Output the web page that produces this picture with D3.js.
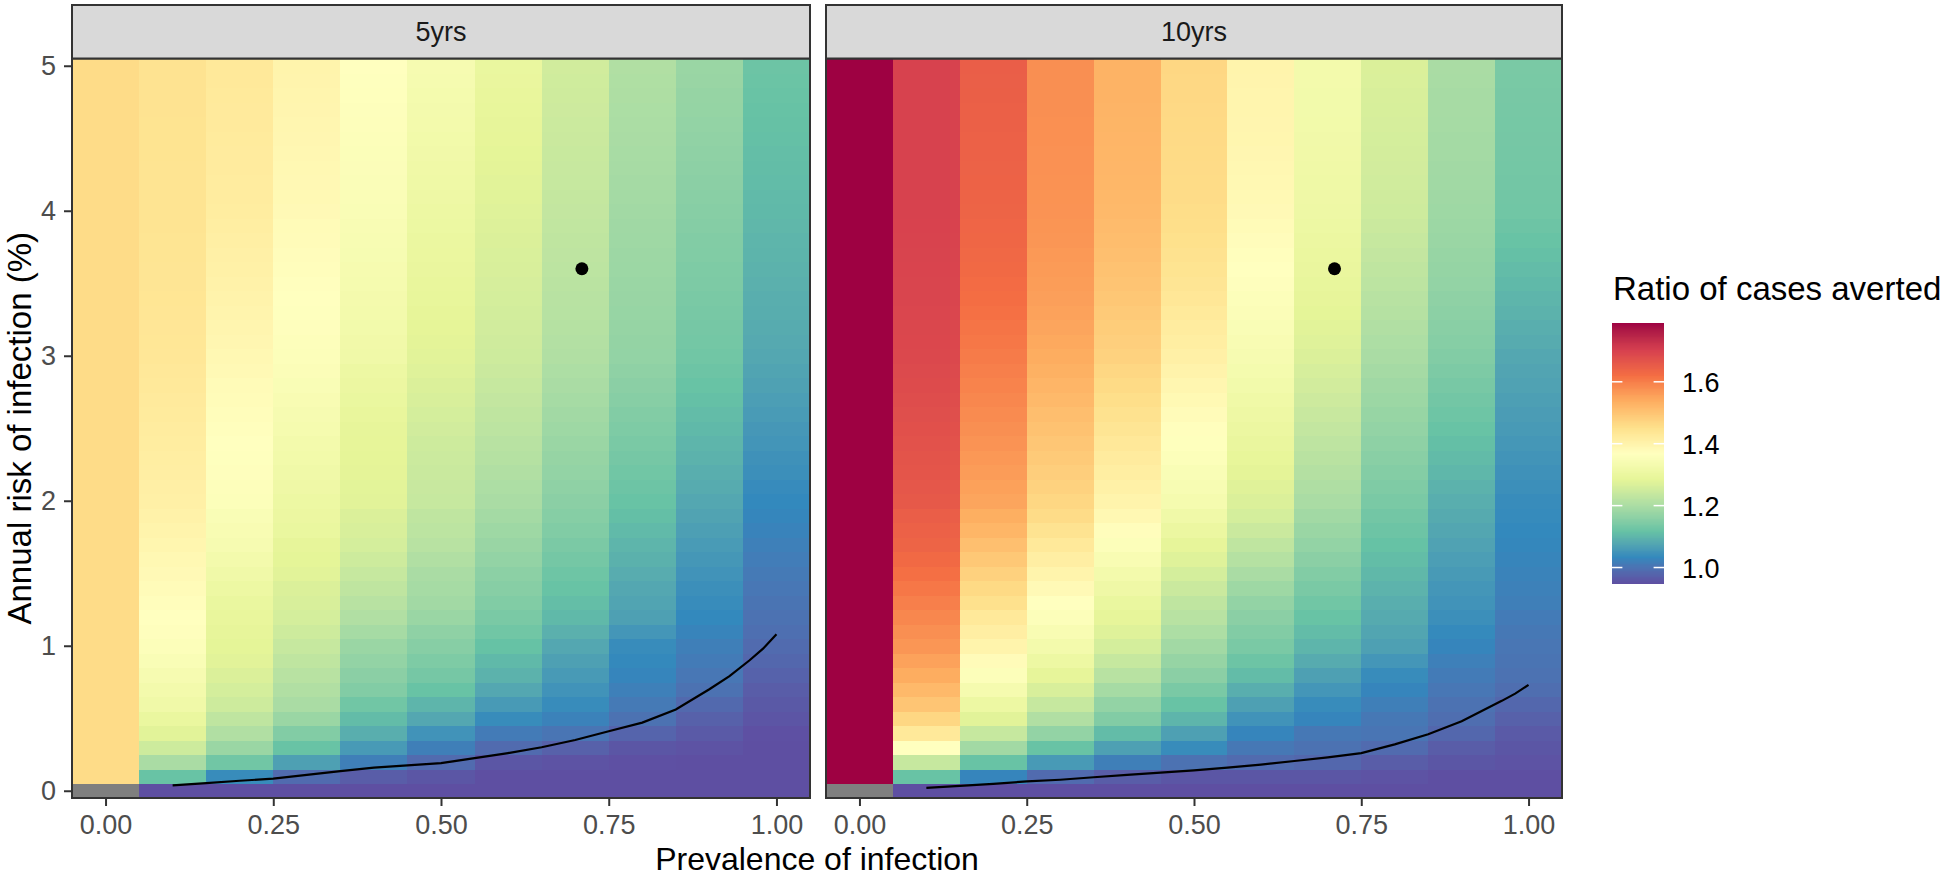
<!DOCTYPE html>
<html><head><meta charset="utf-8">
<script src="https://cdn.jsdelivr.net/npm/d3@7"></script>
<style>
body{margin:0;background:#fff;}
text{font-family:"Liberation Sans",Arial,sans-serif;}
</style>
</head><body>
<svg id="chart" width="1946" height="878"></svg>
<script>
// ---------------- DATA ----------------
const panels = ["5yrs", "10yrs"];
const prevalence = [0, 0.1, 0.2, 0.3, 0.4, 0.5, 0.6, 0.7, 0.8, 0.9, 1.0];
const riskLevels = [0,0.1,0.2,0.3,0.4,0.5,0.6,0.7,0.8,0.9,1.0,1.1,1.2,1.3,1.4,1.5,1.6,1.7,1.8,1.9,2.0,
  2.1,2.2,2.3,2.4,2.5,2.6,2.7,2.8,2.9,3.0,3.1,3.2,3.3,3.4,3.5,3.6,3.7,3.8,3.9,4.0,
  4.1,4.2,4.3,4.4,4.5,4.6,4.7,4.8,4.9,5.0];
const xTickValues = [0, 0.25, 0.5, 0.75, 1.0];
const xTickLabels = ["0.00", "0.25", "0.50", "0.75", "1.00"];
const yTickValues = [0, 1, 2, 3, 4, 5];
const yTickLabels = ["0", "1", "2", "3", "4", "5"];
const legendTicks = [1.0, 1.2, 1.4, 1.6];
const legendTickLabels = ["1.0", "1.2", "1.4", "1.6"];
const fillLimits = [0.95, 1.79];
const spectralColours = ["#5e4fa2","#3288bd","#66c2a5","#abdda4","#e6f598","#ffffbf","#fee08b","#fdae61","#f46d43","#d53e4f","#9e0142"];

// 5yrs: ratio per prevalence column, rows follow riskLevels
const r5_p00 = [null,1.46,1.46,1.46,1.46,1.46,1.46,1.46,1.46,1.46,1.46,1.46,1.46,1.46,1.46,1.46,1.46,1.46,1.46,1.46,1.46,
  1.46,1.46,1.46,1.46,1.46,1.46,1.46,1.46,1.46,1.46,1.46,1.46,1.46,1.46,1.46,1.46,1.46,1.46,1.46,1.46,
  1.46,1.46,1.46,1.46,1.46,1.46,1.46,1.46,1.46,1.46];
const r5_p01 = [0.95,1.12,1.20,1.25,1.28,1.30,1.32,1.33,1.34,1.35,1.36,1.365,1.37,1.375,1.38,1.385,1.39,1.395,1.40,1.405,1.41,
  1.412,1.415,1.417,1.42,1.422,1.425,1.427,1.43,1.432,1.435,1.436,1.437,1.438,1.439,1.44,1.44,1.441,1.441,1.442,1.442,
  1.443,1.443,1.443,1.444,1.444,1.444,1.445,1.445,1.445,1.445];
const r5_p02 = [0.95,1.04,1.13,1.18,1.21,1.23,1.25,1.26,1.27,1.28,1.285,1.29,1.295,1.30,1.31,1.32,1.33,1.34,1.345,1.35,1.36,
  1.362,1.365,1.367,1.37,1.373,1.376,1.379,1.382,1.386,1.39,1.393,1.396,1.399,1.402,1.405,1.408,1.411,1.414,1.417,1.42,
  1.421,1.422,1.423,1.424,1.425,1.426,1.427,1.428,1.429,1.43];
const r5_p03 = [0.95,0.99,1.07,1.12,1.15,1.18,1.20,1.21,1.22,1.23,1.24,1.25,1.26,1.265,1.27,1.28,1.285,1.29,1.30,1.305,1.31,
  1.315,1.32,1.325,1.33,1.335,1.34,1.345,1.35,1.355,1.36,1.362,1.365,1.367,1.37,1.372,1.375,1.377,1.38,1.382,1.385,
  1.387,1.388,1.39,1.391,1.393,1.394,1.396,1.397,1.399,1.40];
const r5_p04 = [0.95,0.97,1.02,1.06,1.09,1.11,1.13,1.15,1.16,1.17,1.18,1.195,1.21,1.22,1.23,1.24,1.25,1.26,1.265,1.27,1.28,
  1.282,1.284,1.286,1.288,1.29,1.295,1.30,1.305,1.31,1.32,1.323,1.326,1.329,1.332,1.335,1.338,1.341,1.344,1.347,1.35,
  1.352,1.354,1.356,1.358,1.36,1.362,1.364,1.366,1.368,1.37];
const r5_p05 = [0.95,0.96,0.99,1.02,1.05,1.08,1.10,1.12,1.135,1.145,1.155,1.165,1.18,1.19,1.195,1.20,1.21,1.22,1.225,1.23,1.24,
  1.242,1.244,1.246,1.25,1.255,1.26,1.265,1.27,1.275,1.28,1.283,1.286,1.289,1.292,1.295,1.298,1.301,1.304,1.307,1.31,
  1.313,1.316,1.319,1.322,1.325,1.328,1.331,1.334,1.337,1.34];
const r5_p06 = [0.95,0.95,0.96,0.99,1.015,1.04,1.06,1.08,1.095,1.105,1.118,1.13,1.14,1.148,1.155,1.162,1.17,1.178,1.185,1.192,1.20,
  1.205,1.21,1.215,1.22,1.225,1.23,1.235,1.24,1.245,1.25,1.252,1.255,1.257,1.26,1.262,1.265,1.267,1.27,1.272,1.275,
  1.278,1.28,1.283,1.285,1.288,1.29,1.293,1.295,1.298,1.30];
const r5_p07 = [0.95,0.95,0.955,0.975,1.005,1.025,1.04,1.05,1.06,1.07,1.08,1.093,1.105,1.112,1.12,1.127,1.134,1.141,1.148,1.154,1.16,
  1.165,1.17,1.175,1.18,1.185,1.19,1.195,1.20,1.205,1.21,1.213,1.215,1.218,1.22,1.223,1.225,1.228,1.23,1.233,1.235,
  1.237,1.239,1.241,1.243,1.245,1.247,1.249,1.251,1.253,1.255];
const r5_p08 = [0.95,0.95,0.952,0.96,0.98,1.0,1.012,1.022,1.03,1.036,1.04,1.055,1.07,1.075,1.08,1.087,1.094,1.10,1.107,1.114,1.12,
  1.125,1.13,1.135,1.14,1.145,1.15,1.155,1.16,1.165,1.17,1.172,1.174,1.176,1.178,1.18,1.182,1.184,1.186,1.188,1.19,
  1.192,1.194,1.196,1.198,1.20,1.202,1.204,1.206,1.208,1.21];
const r5_p09 = [0.95,0.95,0.95,0.955,0.965,0.975,0.988,1.0,1.008,1.015,1.02,1.028,1.035,1.04,1.045,1.05,1.056,1.062,1.068,1.074,1.08,
  1.085,1.09,1.095,1.10,1.105,1.11,1.115,1.12,1.125,1.13,1.133,1.135,1.138,1.14,1.143,1.145,1.148,1.15,1.153,1.155,
  1.158,1.16,1.163,1.165,1.168,1.17,1.173,1.175,1.178,1.18];
const r5_p10 = [0.95,0.95,0.95,0.95,0.952,0.958,0.964,0.97,0.977,0.984,0.99,0.996,1.0,1.004,1.008,1.012,1.017,1.022,1.027,1.031,1.035,
  1.039,1.044,1.048,1.053,1.057,1.062,1.066,1.071,1.075,1.08,1.083,1.085,1.088,1.09,1.093,1.095,1.098,1.10,1.103,1.105,
  1.107,1.109,1.111,1.113,1.115,1.117,1.119,1.121,1.123,1.125];

// 10yrs
const r10_p00 = [null,1.79,1.79,1.79,1.79,1.79,1.79,1.79,1.79,1.79,1.79,1.79,1.79,1.79,1.79,1.79,1.79,1.79,1.79,1.79,1.79,
  1.79,1.79,1.79,1.79,1.79,1.79,1.79,1.79,1.79,1.79,1.79,1.79,1.79,1.79,1.79,1.79,1.79,1.79,1.79,1.79,
  1.79,1.79,1.79,1.79,1.79,1.79,1.79,1.79,1.79,1.79];
const r10_p01 = [0.95,1.12,1.24,1.37,1.43,1.47,1.50,1.52,1.54,1.555,1.57,1.58,1.59,1.60,1.61,1.62,1.63,1.64,1.645,1.65,1.66,
  1.663,1.666,1.669,1.672,1.675,1.678,1.681,1.684,1.687,1.69,1.691,1.692,1.693,1.694,1.695,1.696,1.697,1.698,1.699,1.70,
  1.70,1.70,1.70,1.70,1.70,1.70,1.70,1.70,1.70,1.70];
const r10_p02 = [0.95,1.03,1.12,1.19,1.24,1.28,1.31,1.335,1.36,1.38,1.40,1.415,1.43,1.45,1.465,1.48,1.495,1.51,1.525,1.537,1.55,
  1.556,1.562,1.568,1.574,1.58,1.585,1.59,1.595,1.60,1.605,1.61,1.614,1.618,1.622,1.626,1.629,1.632,1.635,1.637,1.64,
  1.641,1.642,1.643,1.644,1.645,1.646,1.647,1.648,1.649,1.65];
const r10_p03 = [0.95,0.99,1.06,1.12,1.17,1.21,1.24,1.265,1.29,1.31,1.33,1.345,1.36,1.37,1.385,1.40,1.415,1.43,1.445,1.46,1.47,
  1.477,1.484,1.491,1.498,1.505,1.512,1.519,1.526,1.533,1.54,1.545,1.55,1.554,1.558,1.561,1.564,1.567,1.57,1.572,1.574,
  1.575,1.576,1.577,1.577,1.578,1.578,1.579,1.579,1.58,1.58];
const r10_p04 = [0.95,0.97,1.02,1.07,1.11,1.15,1.17,1.195,1.22,1.24,1.26,1.275,1.29,1.30,1.315,1.33,1.345,1.36,1.375,1.39,1.40,
  1.408,1.416,1.424,1.432,1.44,1.448,1.456,1.463,1.47,1.477,1.482,1.487,1.492,1.497,1.501,1.505,1.509,1.513,1.516,1.519,
  1.521,1.523,1.524,1.525,1.526,1.527,1.528,1.529,1.53,1.53];
const r10_p05 = [0.95,0.96,1.0,1.04,1.07,1.10,1.12,1.14,1.16,1.175,1.19,1.205,1.22,1.23,1.245,1.26,1.275,1.29,1.305,1.32,1.335,
  1.343,1.351,1.359,1.366,1.373,1.38,1.387,1.394,1.402,1.41,1.416,1.422,1.428,1.434,1.44,1.444,1.448,1.452,1.455,1.458,
  1.46,1.461,1.462,1.463,1.464,1.465,1.466,1.467,1.468,1.47];
const r10_p06 = [0.95,0.96,0.99,1.01,1.03,1.05,1.07,1.09,1.11,1.125,1.14,1.15,1.16,1.17,1.185,1.20,1.215,1.23,1.245,1.26,1.27,
  1.277,1.284,1.291,1.298,1.305,1.312,1.319,1.326,1.333,1.34,1.345,1.35,1.355,1.36,1.365,1.369,1.373,1.377,1.381,1.385,
  1.387,1.389,1.391,1.393,1.395,1.396,1.397,1.398,1.399,1.40];
const r10_p07 = [0.95,0.96,0.985,1.0,1.01,1.03,1.04,1.055,1.07,1.085,1.10,1.11,1.12,1.13,1.14,1.15,1.16,1.17,1.18,1.19,1.20,
  1.207,1.214,1.221,1.228,1.235,1.242,1.249,1.256,1.263,1.27,1.275,1.28,1.285,1.29,1.294,1.298,1.302,1.306,1.31,1.313,
  1.315,1.317,1.319,1.321,1.323,1.325,1.326,1.327,1.328,1.33];
const r10_p08 = [0.95,0.955,0.97,0.99,1.005,1.01,1.02,1.03,1.04,1.055,1.07,1.077,1.084,1.09,1.097,1.104,1.111,1.118,1.125,1.132,1.14,
  1.146,1.152,1.158,1.164,1.17,1.176,1.182,1.188,1.194,1.20,1.205,1.21,1.215,1.22,1.225,1.23,1.235,1.24,1.245,1.25,
  1.252,1.254,1.256,1.258,1.26,1.262,1.264,1.266,1.268,1.27];
const r10_p09 = [0.95,0.95,0.96,0.97,0.985,0.995,1.0,1.008,1.015,1.022,1.03,1.037,1.044,1.05,1.055,1.06,1.066,1.072,1.078,1.084,1.09,
  1.096,1.102,1.108,1.114,1.12,1.126,1.132,1.138,1.144,1.15,1.154,1.158,1.162,1.166,1.17,1.173,1.176,1.179,1.182,1.185,
  1.187,1.189,1.19,1.192,1.193,1.195,1.196,1.197,1.199,1.20];
const r10_p10 = [0.95,0.95,0.955,0.96,0.965,0.975,0.985,0.995,1.0,1.003,1.006,1.01,1.015,1.02,1.023,1.026,1.029,1.032,1.035,1.038,1.04,
  1.044,1.048,1.052,1.056,1.06,1.064,1.068,1.072,1.076,1.08,1.085,1.09,1.095,1.10,1.105,1.11,1.115,1.12,1.125,1.13,
  1.131,1.132,1.133,1.134,1.135,1.136,1.137,1.138,1.139,1.14];

// threshold curves (ratio = 1)
const curveX = [0.1,0.15,0.2,0.25,0.3,0.35,0.4,0.45,0.5,0.55,0.6,0.65,0.7,0.75,0.8,0.85,0.9,0.93,0.96,0.98,1.0];
const curve5y = [0.037,0.053,0.069,0.083,0.11,0.135,0.16,0.175,0.19,0.225,0.26,0.30,0.35,0.41,0.47,0.56,0.70,0.79,0.90,0.98,1.08];
const curve10y = [0.02,0.034,0.048,0.064,0.076,0.093,0.11,0.125,0.14,0.16,0.18,0.205,0.23,0.26,0.32,0.39,0.48,0.55,0.62,0.67,0.73];
// observed setting
const pointPrev = [0.71];
const pointRisk = [3.6];

// ---------------- BUILD ----------------
const panelColumns = {
  "5yrs": [r5_p00,r5_p01,r5_p02,r5_p03,r5_p04,r5_p05,r5_p06,r5_p07,r5_p08,r5_p09,r5_p10],
  "10yrs": [r10_p00,r10_p01,r10_p02,r10_p03,r10_p04,r10_p05,r10_p06,r10_p07,r10_p08,r10_p09,r10_p10]
};
const panelCurves = {"5yrs": curve5y, "10yrs": curve10y};

const svg = d3.select("#chart");
const plotTop = 58.5, plotBottom = 798, stripTop = 5;
const panelX = [[72, 810], [826, 1562]];
const ink = "#333333";
const tickFont = 27, titleFont = 32, legendTitleFont = 33;

const stops = spectralColours.map((c, i) => fillLimits[0] + (fillLimits[1] - fillLimits[0]) * i / (spectralColours.length - 1));
const colour = d3.scaleLinear().domain(stops).range(spectralColours).interpolate(d3.interpolateLab).clamp(true);

const y = d3.scaleLinear().domain([-0.05, 5.05]).range([plotBottom, plotTop]);

panels.forEach((name, pi) => {
  const [x0, x1] = panelX[pi];
  const x = d3.scaleLinear().domain([-0.05, 1.05]).range([x0, x1]);
  const g = svg.append("g");
  const cells = [];
  panelColumns[name].forEach((col, ci) => {
    col.forEach((v, ri) => cells.push({p: prevalence[ci], r: riskLevels[ri], v}));
  });
  g.append("g").selectAll("rect").data(cells).join("rect")
    .attr("x", d => x(d.p - 0.05))
    .attr("y", d => y(d.r + 0.05))
    .attr("width", d => x(d.p + 0.05) - x(d.p - 0.05) + 0.6)
    .attr("height", d => y(d.r - 0.05) - y(d.r + 0.05) + 0.6)
    .attr("fill", d => d.v == null ? "#7f7f7f" : colour(d.v))
    .attr("shape-rendering", "crispEdges");

  const line = d3.line().x(d => x(d[0])).y(d => y(d[1]));
  g.append("path").datum(curveX.map((cx, i) => [cx, panelCurves[name][i]]))
    .attr("d", line).attr("fill", "none").attr("stroke", "#000").attr("stroke-width", 2.2);

  g.selectAll("circle").data(pointPrev.map((p, i) => [p, pointRisk[i]])).join("circle")
    .attr("cx", d => x(d[0])).attr("cy", d => y(d[1])).attr("r", 6.5).attr("fill", "#000");

  // panel border
  g.append("rect").attr("x", x0).attr("y", plotTop).attr("width", x1 - x0).attr("height", plotBottom - plotTop)
    .attr("fill", "none").attr("stroke", ink).attr("stroke-width", 2);
  // strip
  g.append("rect").attr("x", x0).attr("y", stripTop).attr("width", x1 - x0).attr("height", plotTop - stripTop)
    .attr("fill", "#d9d9d9").attr("stroke", ink).attr("stroke-width", 2);
  g.append("text").attr("x", (x0 + x1) / 2).attr("y", 41)
    .attr("text-anchor", "middle").attr("font-size", tickFont).attr("fill", "#1a1a1a").text(name);

  // x axis
  const xa = g.append("g").attr("transform", `translate(0,${plotBottom})`)
    .call(d3.axisBottom(x).tickValues(xTickValues).tickFormat((d, i) => xTickLabels[i]).tickSize(8).tickPadding(9));
  xa.select(".domain").remove();
  xa.selectAll("line").attr("stroke", ink).attr("stroke-width", 2);
  xa.selectAll("text").attr("font-size", tickFont).attr("fill", "#4d4d4d").attr("font-family", "Liberation Sans, Arial, sans-serif");

  if (pi === 0) {
    const ya = g.append("g").attr("transform", `translate(${x0},0)`)
      .call(d3.axisLeft(y).tickValues(yTickValues).tickFormat((d, i) => yTickLabels[i]).tickSize(8).tickPadding(8));
    ya.select(".domain").remove();
    ya.selectAll("line").attr("stroke", ink).attr("stroke-width", 2);
    ya.selectAll("text").attr("font-size", tickFont).attr("fill", "#4d4d4d").attr("font-family", "Liberation Sans, Arial, sans-serif");
  }
});

// axis titles
svg.append("text").attr("x", (panelX[0][0] + panelX[1][1]) / 2).attr("y", 870)
  .attr("text-anchor", "middle").attr("font-size", titleFont).attr("fill", "#000").text("Prevalence of infection");
svg.append("text").attr("transform", `translate(31,${(plotTop + plotBottom) / 2}) rotate(-90)`)
  .attr("text-anchor", "middle").attr("font-size", legendTitleFont).attr("fill", "#000").text("Annual risk of infection (%)");

// legend
const lg = svg.append("g");
const barX = 1612, barW = 52, barTop = 323, barBottom = 583;
const ly = d3.scaleLinear().domain(fillLimits).range([barBottom, barTop]);
lg.append("text").attr("x", 1613).attr("y", 300).attr("font-size", legendTitleFont).attr("fill", "#000").text("Ratio of cases averted");
const nBins = 300;
const bins = d3.range(nBins).map(i => fillLimits[0] + (fillLimits[1] - fillLimits[0]) * (i + 0.5) / nBins);
const binH = (barBottom - barTop) / nBins;
lg.append("g").selectAll("rect").data(bins).join("rect")
  .attr("x", barX).attr("width", barW)
  .attr("y", d => ly(d) - binH / 2).attr("height", binH + 0.5)
  .attr("fill", d => colour(d)).attr("shape-rendering", "crispEdges");
legendTicks.forEach((t, i) => {
  lg.append("line").attr("x1", barX).attr("x2", barX + barW / 5).attr("y1", ly(t)).attr("y2", ly(t)).attr("stroke", "#fff").attr("stroke-width", 1.5);
  lg.append("line").attr("x1", barX + barW - barW / 5).attr("x2", barX + barW).attr("y1", ly(t)).attr("y2", ly(t)).attr("stroke", "#fff").attr("stroke-width", 1.5);
  lg.append("text").attr("x", 1682).attr("y", ly(t) + 10.5).attr("font-size", tickFont).attr("fill", "#000").text(legendTickLabels[i]);
});
</script>
</body></html>
